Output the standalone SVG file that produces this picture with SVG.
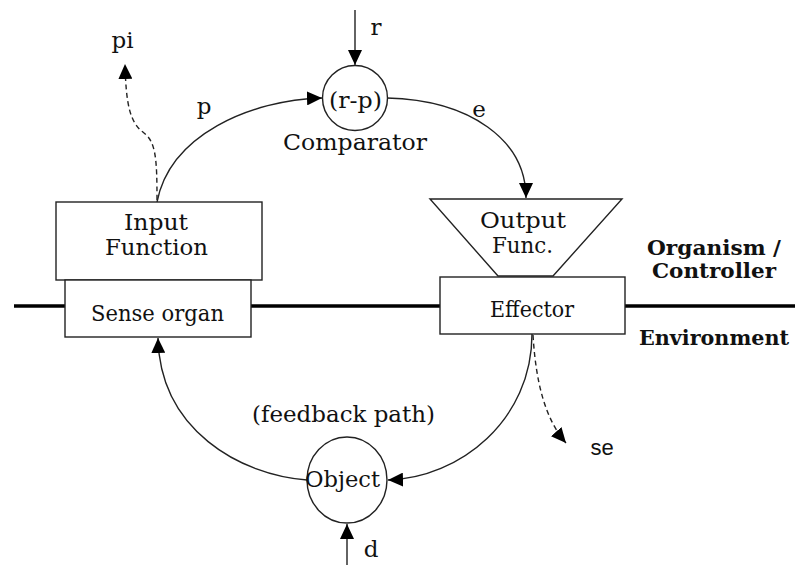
<svg xmlns="http://www.w3.org/2000/svg" width="795" height="565" viewBox="0 0 795 565">
<style>
.t{font-family:"DejaVu Serif","Liberation Serif",serif;font-size:23px;fill:#111;}
.b{font-family:"DejaVu Serif","Liberation Serif",serif;font-size:21px;font-weight:bold;fill:#111;}
.s{font-family:"Liberation Sans",Arial,sans-serif;font-size:22px;fill:#111;}
.shape{fill:#fff;stroke:#222;stroke-width:1.4;}
.ln{fill:none;stroke:#222;stroke-width:1.4;}
.dash{fill:none;stroke:#222;stroke-width:1.4;stroke-dasharray:5,3.5;}
.thick{fill:none;stroke:#000;stroke-width:3.5;}
</style>
<defs>
<marker id="ah" markerUnits="userSpaceOnUse" markerWidth="16" markerHeight="14" refX="15" refY="7" orient="auto">
<path d="M0,0 L15,7 L0,14 z" fill="#000"/>
</marker>
</defs>
<g id="boundary">
<line class="thick" x1="14" y1="306" x2="65" y2="306"/>
<line class="thick" x1="251" y1="306" x2="440" y2="306"/>
<line class="thick" x1="625" y1="306" x2="795" y2="306"/>
</g>
<g id="connectors">
<line class="ln" x1="355" y1="10" x2="355" y2="65" marker-end="url(#ah)"/>
<path class="ln" d="M157,202 C170,135 250,100 322,98" marker-end="url(#ah)"/>
<path class="dash" d="M157,200 C157,160 156,142 144,133 C130,123 126,105 125,64" marker-end="url(#ah)"/>
<path class="ln" d="M387,98 C470,100 526,140 526,198" marker-end="url(#ah)"/>
<path class="ln" d="M532,334 C532,420 460,478 388,480" marker-end="url(#ah)"/>
<path class="dash" d="M533,335 C536,385 546,420 566,443" marker-end="url(#ah)"/>
<path class="ln" d="M307,480 C240,475 160,430 158,338" marker-end="url(#ah)"/>
<line class="ln" x1="347" y1="565" x2="347" y2="524" marker-end="url(#ah)"/>
</g>
<g id="comparator">
<circle class="shape" cx="355" cy="98" r="32.5"/>
<text class="t" x="355.5" y="108" text-anchor="middle" textLength="53" lengthAdjust="spacingAndGlyphs">(r-p)</text>
<text class="t" x="355" y="150" text-anchor="middle" textLength="144" lengthAdjust="spacingAndGlyphs">Comparator</text>
</g>
<g id="input-function">
<rect class="shape" x="56" y="202" width="206" height="78"/>
<text class="t" x="156" y="230" text-anchor="middle" textLength="64" lengthAdjust="spacingAndGlyphs">Input</text>
<text class="t" x="156.5" y="255" text-anchor="middle" textLength="103" lengthAdjust="spacingAndGlyphs">Function</text>
</g>
<g id="sense-organ">
<rect class="shape" x="65" y="280" width="186" height="57"/>
<text class="t" x="157.5" y="321" text-anchor="middle" textLength="133" lengthAdjust="spacingAndGlyphs">Sense organ</text>
</g>
<g id="output-function">
<polygon class="shape" points="430,199 622,199 553,276 498,276"/>
<text class="t" x="523" y="228" text-anchor="middle" textLength="86" lengthAdjust="spacingAndGlyphs">Output</text>
<text class="t" x="522.5" y="253" text-anchor="middle" textLength="61" lengthAdjust="spacingAndGlyphs">Func.</text>
</g>
<g id="effector">
<rect class="shape" x="440" y="277" width="185" height="57"/>
<text class="t" x="532" y="317" text-anchor="middle" textLength="84" lengthAdjust="spacingAndGlyphs">Effector</text>
</g>
<g id="object">
<ellipse class="shape" cx="347" cy="480" rx="40" ry="43"/>
<text class="t" x="342.5" y="487" text-anchor="middle" textLength="75" lengthAdjust="spacingAndGlyphs">Object</text>
</g>
<g id="labels">
<text class="b" x="714" y="255" text-anchor="middle" textLength="134" lengthAdjust="spacingAndGlyphs">Organism /</text>
<text class="b" x="714" y="278" text-anchor="middle" textLength="124" lengthAdjust="spacingAndGlyphs">Controller</text>
<text class="b" x="714" y="345" text-anchor="middle" textLength="150" lengthAdjust="spacingAndGlyphs">Environment</text>
<text class="t" x="343.5" y="422" text-anchor="middle" textLength="183" lengthAdjust="spacingAndGlyphs">(feedback path)</text>
<text class="t" x="122.5" y="48" text-anchor="middle">pi</text>
<text class="t" x="204" y="114" text-anchor="middle">p</text>
<text class="t" x="376" y="35" text-anchor="middle">r</text>
<text class="t" x="479" y="117" text-anchor="middle">e</text>
<text class="t" x="371" y="557" text-anchor="middle">d</text>
<text class="s" x="602" y="455" text-anchor="middle">se</text>
</g>
</svg>
